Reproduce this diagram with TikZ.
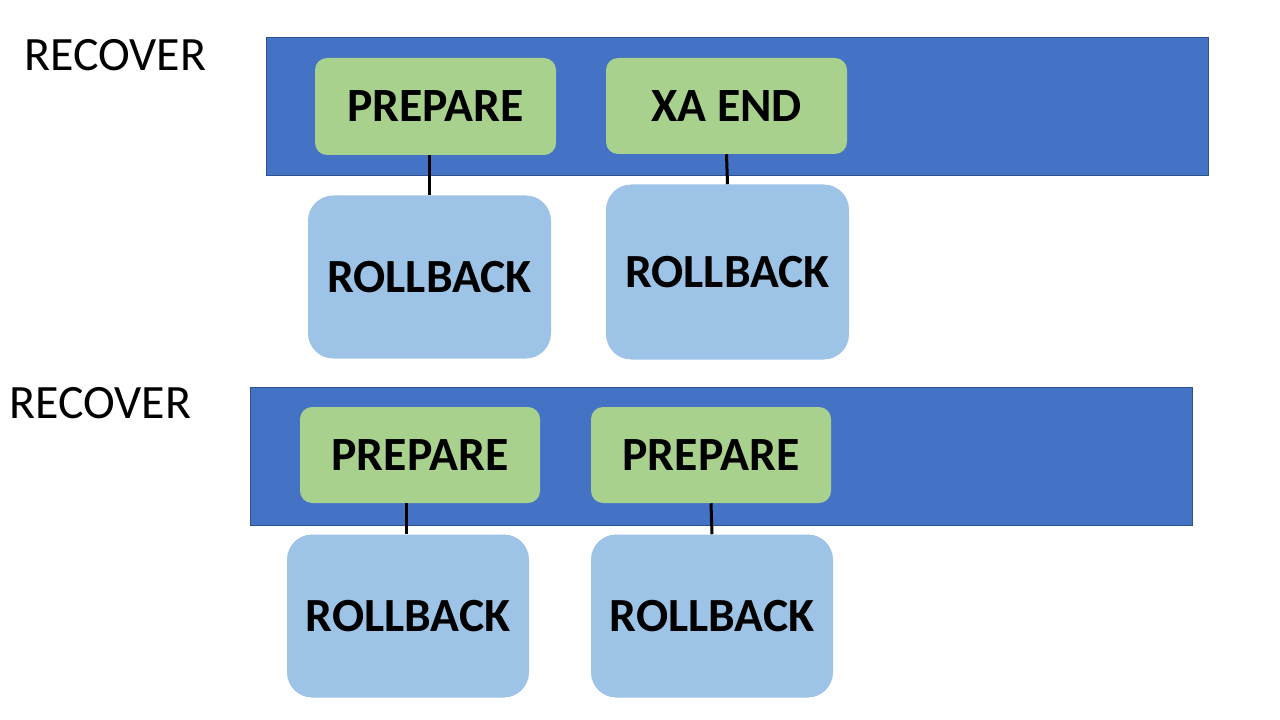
\documentclass[tikz,border=0pt]{standalone}
\usepackage{fontspec}
\setmainfont{Carlito}
\begin{document}
\begin{tikzpicture}[x=0.75pt,y=-0.75pt]
\definecolor{barblue}{HTML}{4472C4}
\definecolor{baredge}{HTML}{2F528F}
\definecolor{stepgreen}{HTML}{A9D18E}
\definecolor{rbblue}{HTML}{9DC3E6}
\tikzset{
  bar/.style={fill=barblue, draw=baredge, line width=0.75pt, inner sep=0pt},
  stepbox/.style={fill=stepgreen, draw=none, rounded corners=9pt, inner sep=0pt,
    font=\fontsize{35.8}{40}\selectfont\bfseries},
  rbbox/.style={fill=rbblue, draw=none, rounded corners=19pt, inner sep=0pt,
    font=\fontsize{35.7}{40}\selectfont\bfseries},
  lbl/.style={inner sep=0pt, font=\fontsize{35.9}{40}\selectfont},
  link/.style={line width=2.25pt, black}
}
\useasboundingbox (0,0) rectangle (1280,720);
\fill[white] (0,0) rectangle (1280,720);
% top section
\node[lbl] (rec1) at (115.5,55) {RECOVER};
\node[bar, minimum width=942*0.75pt, minimum height=138*0.75pt] (bar1) at (737,107) {};
\node[stepbox, minimum width=241*0.75pt, minimum height=97*0.75pt] (g1) at (435.5,106.5) {PREPARE};
\node[stepbox, minimum width=241*0.75pt, minimum height=96*0.75pt] (g2) at (726.5,106) {XA END};
\node[rbbox, minimum width=243*0.75pt, minimum height=163*0.75pt] (r1) at (429.5,277) {ROLLBACK};
\node[rbbox, minimum width=243*0.75pt, minimum height=175*0.75pt] (r2) at (727.5,272) {ROLLBACK};
\draw[link] (r1.north |- g1.south) -- (r1.north);
\draw[link] (g2.south) -- (r2.north);
% bottom section
\node[lbl] (rec2) at (100.5,403) {RECOVER};
\node[bar, minimum width=942*0.75pt, minimum height=138*0.75pt] (bar2) at (721,456) {};
\node[stepbox, minimum width=240*0.75pt, minimum height=96*0.75pt] (g3) at (420,455) {PREPARE};
\node[stepbox, minimum width=240*0.75pt, minimum height=96*0.75pt] (g4) at (711,455) {PREPARE};
\node[rbbox, minimum width=242*0.75pt, minimum height=163*0.75pt] (r3) at (408,616) {ROLLBACK};
\node[rbbox, minimum width=242*0.75pt, minimum height=163*0.75pt] (r4) at (712,616) {ROLLBACK};
\draw[link] ([xshift=-1.5pt]r3.north |- g3.south) -- ([xshift=-1.5pt]r3.north);
\draw[link] (g4.south) -- (r4.north);
\end{tikzpicture}
\end{document}
